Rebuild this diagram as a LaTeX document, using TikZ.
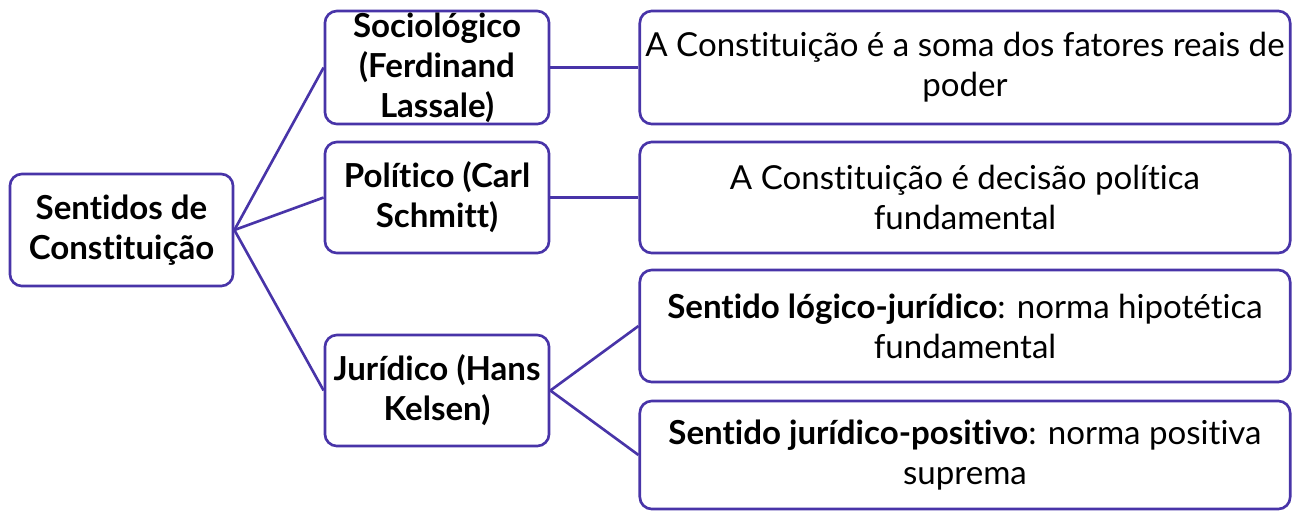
\documentclass[tikz,border=0pt]{standalone}
\usepackage{fontspec}
\setmainfont[Ligatures={NoCommon}]{Lato}
\usepackage{tikz}

\definecolor{roxo}{RGB}{72,52,168}

\begin{document}
\begin{tikzpicture}[x=0.01cm,y=-0.01cm]
\tikzstyle{every node}+=[inner sep=0pt]
\tikzstyle{caixa}=[draw=roxo, line width=0.75pt, rounded corners=0.12cm, align=center, font=\fontsize{9.4}{11.4}\selectfont]
\tikzstyle{liga}=[draw=roxo, line width=0.75pt]
\useasboundingbox (0,0) rectangle (1293,511);
% raiz
\node [caixa, minimum width=2.23cm, minimum height=1.12cm] (raiz) at (121.5,230) {\bfseries Sentidos de\\\bfseries Constituição};
% sentidos
\node [caixa, minimum width=2.24cm, minimum height=1.13cm] (socio) at (437,67.5) {\bfseries Sociológico\\\bfseries (Ferdinand\\\bfseries Lassale)};
\node [caixa, minimum width=2.24cm, minimum height=1.11cm] (poli) at (437,197.5) {\bfseries Político (Carl\\\bfseries Schmitt)};
\node [caixa, minimum width=2.24cm, minimum height=1.11cm] (juri) at (437,390.5) {\bfseries Jurídico (Hans\\\bfseries Kelsen)};
% definicoes
\node [caixa, minimum width=6.5cm, minimum height=1.13cm] (soma) at (965,67.5) {A Constituição é a soma dos fatores reais de\\poder};
\node [caixa, minimum width=6.5cm, minimum height=1.11cm] (decisao) at (965,197.5) {A Constituição é decisão política\\fundamental};
\node [caixa, minimum width=6.5cm, minimum height=1.12cm] (logico) at (965,326) {\textbf{Sentido lógico-jurídico}: norma hipotética\\fundamental};
\node [caixa, minimum width=6.5cm, minimum height=1.08cm] (positivo) at (965,455) {\textbf{Sentido jurídico-positivo}: norma positiva\\suprema};
% ligacoes
\draw [liga] (raiz.east) -- (socio.west);
\draw [liga] (raiz.east) -- (poli.west);
\draw [liga] (raiz.east) -- (juri.west);
\draw [liga] (socio.east) -- (soma.west);
\draw [liga] (poli.east) -- (decisao.west);
\draw [liga] (juri.east) -- (logico.west);
\draw [liga] (juri.east) -- (positivo.west);
\end{tikzpicture}
\end{document}
